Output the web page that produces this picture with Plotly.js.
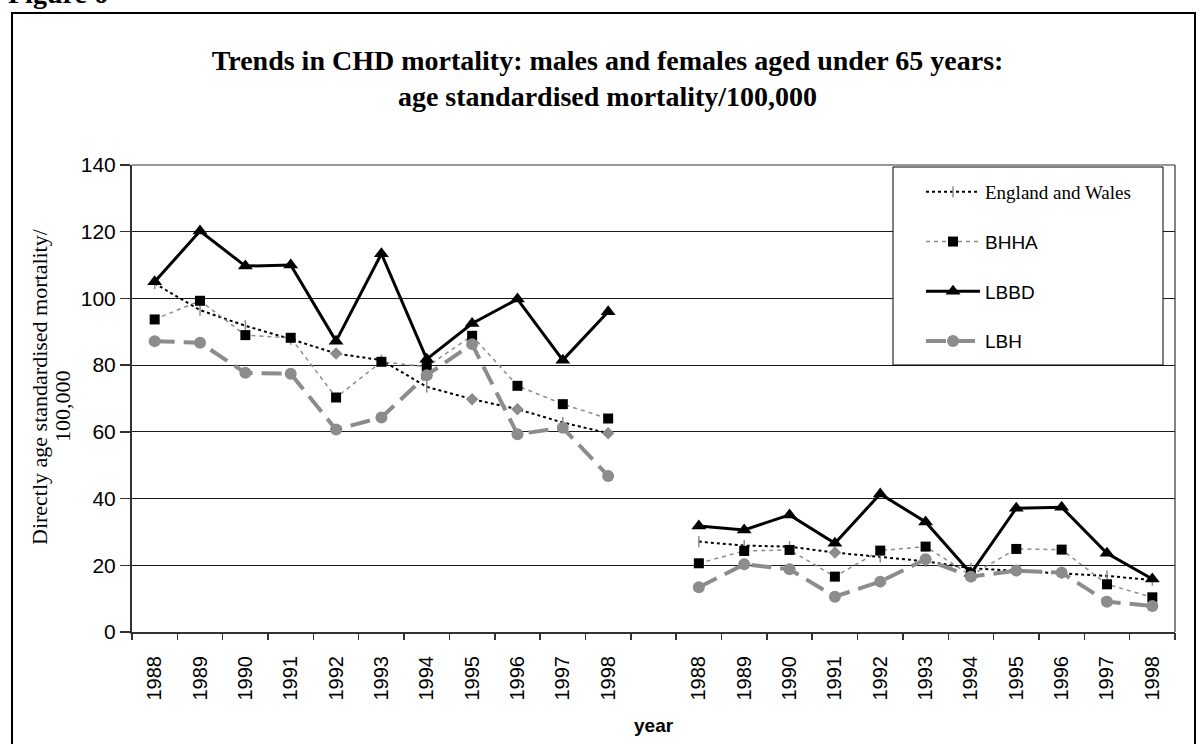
<!DOCTYPE html>
<html>
<head>
<meta charset="utf-8">
<script src="https://cdn.plot.ly/plotly-3.0.1.min.js"></script>
<style>
html,body{margin:0;padding:0;background:#fff;}
#chart{width:1203px;height:744px;}
</style>
</head>
<body>
<div id="chart"></div>
<script>
// ---- data ----
const years = [1988, 1989, 1990, 1991, 1992, 1993, 1994, 1995, 1996, 1997, 1998];
const seriesNames = ["England and Wales", "BHHA", "LBBD", "LBH"];

// first group (males, under 65)
const malesEW   = [104.5, 96.5, 91.8, 87.8, 83.5, 81.5, 73.5, 69.8, 66.8, 62.8, 59.6];
const malesBHHA = [93.7, 99.3, 89.0, 88.2, 70.3, 81.0, 79.5, 88.8, 73.8, 68.3, 64.0];
const malesLBBD = [105.0, 120.2, 109.7, 110.0, 87.2, 113.4, 81.8, 92.5, 99.8, 81.5, 96.0];
const malesLBH  = [87.2, 86.7, 77.7, 77.4, 60.7, 64.3, 77.0, 86.3, 59.3, 61.2, 46.8];

// second group (females, under 65)
const femalesEW   = [27.1, 25.9, 25.6, 23.8, 22.5, 21.2, 19.1, 18.4, 17.6, 16.8, 15.6];
const femalesBHHA = [20.6, 24.3, 24.6, 16.6, 24.4, 25.6, 17.0, 24.9, 24.7, 14.3, 10.4];
const femalesLBBD = [31.8, 30.6, 35.1, 26.6, 41.4, 33.0, 17.6, 37.1, 37.4, 23.6, 15.9];
const femalesLBH  = [13.4, 20.3, 18.8, 10.6, 15.1, 21.8, 16.6, 18.4, 17.8, 9.1, 7.8];

// ---- category slots: group 1, one empty slot, group 2 ----
const n = years.length;
const xPos = [];
for (let i = 0; i < n; i++) xPos.push(i);
xPos.push(n);
for (let i = 0; i < n; i++) xPos.push(n + 1 + i);
const tickVals = xPos.slice();
const tickText = years.map(String).concat([""]).concat(years.map(String));
const boundaries = [];
for (let i = 0; i <= 2 * n + 1; i++) boundaries.push(i - 0.5);

function joined(a, b) { return a.concat([null]).concat(b); }

const ewSymbols = ['line-ns','line-ns','line-ns','line-ns','diamond','line-ns','line-ns','diamond','diamond','line-ns','diamond',
                   'line-ns',
                   'line-ns','line-ns','line-ns','diamond','line-ns','line-ns','line-ns','line-ns','line-ns','line-ns','line-ns'];

const traces = [
  {
    x: xPos, y: joined(malesEW, femalesEW), name: '<span style="font-family:Liberation Serif">' + seriesNames[0] + '</span>',
    legendgroup: 'g1', type: 'scatter', mode: 'lines+markers', connectgaps: false,
    line: {color: '#000000', width: 2, dash: '3px,3px'},
    marker: {symbol: ewSymbols, size: 8, color: '#8c8c8c', line: {color: '#8c8c8c', width: 1.5}}
  },
  {
    x: xPos, y: joined(malesBHHA, femalesBHHA), name: seriesNames[1],
    legendgroup: 'g2', type: 'scatter', mode: 'lines+markers', connectgaps: false,
    line: {color: '#8c8c8c', width: 1.5, dash: '4px,4px'},
    marker: {symbol: 'square', size: 10, color: '#000000'}
  },
  {
    x: xPos, y: joined(malesLBBD, femalesLBBD), name: seriesNames[2],
    legendgroup: 'g3', type: 'scatter', mode: 'lines+markers', connectgaps: false,
    line: {color: '#000000', width: 3},
    marker: {symbol: 'triangle-up', size: 13, color: '#000000'}
  },
  {
    x: xPos, y: joined(malesLBH, femalesLBH), name: seriesNames[3],
    legendgroup: 'g4', type: 'scatter', mode: 'lines+markers', connectgaps: false,
    line: {color: '#8c8c8c', width: 4, dash: '20px,9px'},
    marker: {symbol: 'circle', size: 12, color: '#8c8c8c'}
  },
  // invisible trace carrying the boundary tick marks axis
  {
    x: [boundaries[0], boundaries[boundaries.length - 1]], y: [0, 0], xaxis: 'x2', yaxis: 'y',
    mode: 'markers', marker: {opacity: 0}, showlegend: false, hoverinfo: 'skip'
  }
];

const L = 132, R = 28, T = 165, B = 112, W = 1203, H = 744;
const pw = W - L - R, ph = H - T - B;
const px = v => (v - L) / pw;        // pixel -> paper x
const py = v => (H - B - v) / ph;    // pixel -> paper y

const serif = 'Liberation Serif, Times New Roman, serif';
const sans = 'Liberation Sans, Arial, sans-serif';

const layout = {
  width: W, height: H,
  margin: {l: L, r: R, t: T, b: B, pad: 0},
  paper_bgcolor: '#ffffff', plot_bgcolor: '#ffffff',
  showlegend: true,
  title: {
    text: '<b>Trends in CHD mortality: males and females aged under 65 years:<br>age standardised mortality/100,000</b>',
    font: {family: serif, size: 28, color: '#000'},
    xref: 'container', x: 0.505, xanchor: 'center',
    yref: 'container', y: 1 - 70 / H, yanchor: 'top'
  },
  xaxis: {
    range: [-0.5, 2 * n + 0.5], tickmode: 'array', tickvals: tickVals, ticktext: tickText,
    tickangle: -90, ticks: 'outside', ticklen: 14, tickcolor: 'rgba(0,0,0,0)',
    tickfont: {family: sans, size: 20, color: '#000'},
    showgrid: false, zeroline: false, showline: true, linecolor: '#333', linewidth: 2,
    fixedrange: true
  },
  xaxis2: {
    overlaying: 'x', anchor: 'y', side: 'bottom',
    range: [-0.5, 2 * n + 0.5], tickmode: 'array', tickvals: boundaries,
    ticks: 'outside', ticklen: 7, tickcolor: '#333', tickwidth: 1.5,
    showticklabels: false, showgrid: false, zeroline: false, showline: false
  },
  yaxis: {
    range: [0, 140], tickmode: 'linear', tick0: 0, dtick: 20,
    ticks: 'outside', ticklen: 10, tickcolor: '#333', tickwidth: 1.5,
    tickfont: {family: sans, size: 21, color: '#000'},
    showgrid: true, gridcolor: '#1a1a1a', gridwidth: 1,
    zeroline: false, showline: true, linecolor: '#333', linewidth: 2,
    fixedrange: true
  },
  legend: {
    x: px(921), xanchor: 'left', y: py(173), yanchor: 'top',
    bgcolor: 'rgba(0,0,0,0)', borderwidth: 0,
    font: {family: sans, size: 19, color: '#000'},
    tracegroupgap: 22, itemwidth: 54, itemsizing: 'trace'
  },
  shapes: [
    // outer frame
    {type: 'rect', xref: 'paper', yref: 'paper', x0: px(12), x1: px(1195), y0: py(800), y1: py(13),
     line: {color: '#000', width: 2}, fillcolor: 'rgba(0,0,0,0)', layer: 'above'},
    // plot area right and top border
    {type: 'line', xref: 'paper', yref: 'paper', x0: 1, x1: 1, y0: 0, y1: 1, line: {color: '#333', width: 1.2}, layer: 'above'},
    {type: 'line', xref: 'paper', yref: 'paper', x0: 0, x1: 1, y0: 1, y1: 1, line: {color: '#333', width: 1.2}, layer: 'above'},
    // legend box
    {type: 'rect', xref: 'paper', yref: 'paper', x0: px(893), x1: px(1163), y0: py(365), y1: py(167),
     line: {color: '#000', width: 1}, fillcolor: '#ffffff', layer: 'above'}
  ],
  annotations: [
    {text: '<b>Figure 6</b>', xref: 'paper', yref: 'paper', x: px(6), y: py(11), xanchor: 'left', yanchor: 'bottom',
     showarrow: false, font: {family: serif, size: 28, color: '#000'}},
    {text: 'Directly age standardised mortality/', xref: 'paper', yref: 'paper', x: px(39), y: py(387),
     xanchor: 'center', yanchor: 'middle', textangle: -90, showarrow: false,
     font: {family: serif, size: 22, color: '#000'}},
    {text: '100,000', xref: 'paper', yref: 'paper', x: px(62), y: py(406),
     xanchor: 'center', yanchor: 'middle', textangle: -90, showarrow: false,
     font: {family: serif, size: 22, color: '#000'}},
    {text: '<b>year</b>', xref: 'paper', yref: 'paper', x: 0.5, y: py(725), xanchor: 'center', yanchor: 'middle',
     showarrow: false, font: {family: sans, size: 19, color: '#000'}}
  ]
};

Plotly.newPlot('chart', traces, layout, {displayModeBar: false, staticPlot: true});
</script>
</body>
</html>
